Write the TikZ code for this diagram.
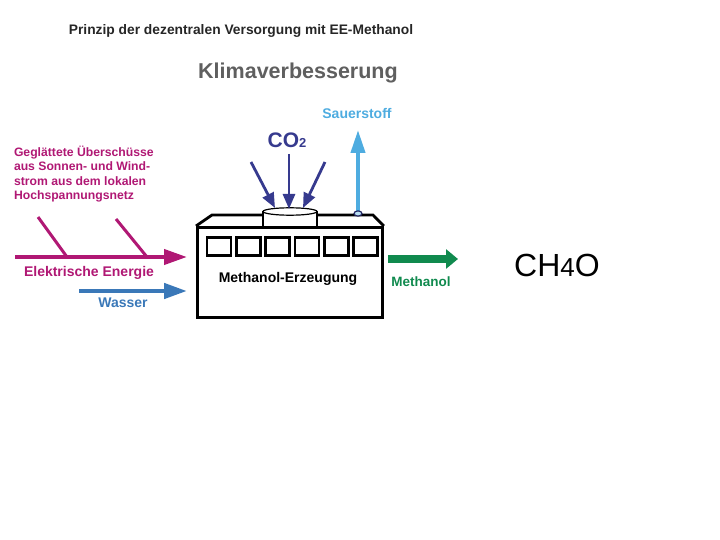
\documentclass[tikz,border=0pt]{standalone}
\usepackage{fontspec}
\setmainfont{Liberation Sans}
\usetikzlibrary{arrows.meta}
\definecolor{magentaE}{RGB}{176,24,116}
\definecolor{waterblue}{RGB}{58,120,184}
\definecolor{methgreen}{RGB}{16,138,78}
\definecolor{oxyblue}{RGB}{78,172,224}
\definecolor{coblue}{RGB}{54,58,142}
\definecolor{klimagray}{RGB}{95,95,95}
\tikzset{
  txt/.style={inner sep=0pt, outer sep=0pt, font=\fontsize{14}{16}\selectfont\bfseries},
  boxline/.style={line width=2.8pt, black, line join=miter},
  elarrow/.style={draw=magentaE, line width=4pt, -{Triangle[length=23pt,width=15pt]}},
  elline/.style={draw=magentaE, line width=3pt},
  waterarrow/.style={draw=waterblue, line width=4.5pt, -{Triangle[length=23pt,width=15pt]}},
  metharrow/.style={draw=methgreen, line width=8pt, -{Triangle[length=12pt,width=19pt]}},
  oxyarrow/.style={draw=oxyblue, line width=4pt, -{Triangle[length=23pt,width=14pt]}},
  coarrow/.style={draw=coblue, line width=2.8pt, -{Triangle[length=15pt,width=12pt]}},
}
\begin{document}
\begin{tikzpicture}[x=1pt,y=-1pt]
\useasboundingbox (0,0) rectangle (720,540);

% titles
\node[txt, text=black!85, font=\fontsize{13.8}{16}\selectfont\bfseries] (title) at (241,31) {Prinzip der dezentralen Versorgung mit EE-Methanol};
\node[txt, text=klimagray, font=\fontsize{21.5}{24}\selectfont\bfseries] (klima) at (298,73) {Klimaverbesserung};

% plant box
\node[boxline, draw, fill=white, minimum width=185pt, minimum height=90pt, anchor=north west, inner sep=0pt] (box) at (196,226) {};
\draw[boxline] (box.north west) -- (212,215) -- (263,215);
\draw[boxline] (317,215) -- (373,215) -- (box.north east);
\draw[boxline] (263,226) -- (263,211.5);
\draw[boxline] (317,226) -- (317,211.5);
\draw[line width=1.2pt, fill=white] (290,211.5) ellipse [x radius=27pt, y radius=3.7pt];
\foreach \i in {0,...,5} {
  \draw[boxline, line width=2.6pt] ({207+\i*29.3},237.5) rectangle ({231+\i*29.3},255.5);
}
\node[txt] (erz) at (288,278.5) {Methanol-Erzeugung};

% CO2
\node[txt, text=coblue, font=\fontsize{21}{24}\selectfont\bfseries] (co2) at (287,140) {CO{\fontsize{13}{15}\selectfont 2}};
\coordinate (c1s) at (251,162); \coordinate (c1e) at (275,208);
\coordinate (c2s) at (289,154); \coordinate (c2e) at (289,209);
\coordinate (c3s) at (325,162); \coordinate (c3e) at (303,208);
\draw[coarrow] (c1s) -- (c1e);
\draw[coarrow] (c2s) -- (c2e);
\draw[coarrow] (c3s) -- (c3e);

% oxygen
\node[txt, text=oxyblue] (sauer) at (357,113) {Sauerstoff};
\coordinate (oxtip) at (358,130);
\coordinate (valve) at (358,213.5);
\draw[oxyarrow] (valve) -- (oxtip);
\draw[draw=coblue!70!black, line width=1.2pt, fill=oxyblue!40] (valve) ellipse [x radius=4pt, y radius=2.6pt];

% left side
\node[txt, text=magentaE, font=\fontsize{12.2}{14.5}\selectfont\bfseries, align=left, anchor=north west] (src) at (14,146)
  {Geglättete Überschüsse\\aus Sonnen- und Wind-\\strom aus dem lokalen\\Hochspannungsnetz};
\coordinate (elS) at (15,257);
\coordinate (elE) at (187,257);
\draw[elarrow] (elS) -- (elE);
\draw[elline] (38,217) -- (67,257);
\draw[elline] (116,219) -- (147,257);
\node[txt, text=magentaE] (elek) at (89,273) {Elektrische Energie};
\coordinate (wS) at (79,291);
\coordinate (wE) at (187,291);
\draw[waterarrow] (wS) -- (wE);
\node[txt, text=waterblue] (wasser) at (123,303) {Wasser};

% methanol out
\coordinate (mS) at (388,259);
\coordinate (mE) at (458,259);
\draw[metharrow] (mS) -- (mE);
\node[txt, text=methgreen, font=\fontsize{13.5}{16}\selectfont\bfseries] (meth) at (421,282) {Methanol};

\node[inner sep=0pt, font=\fontsize{32}{36}\selectfont] (ch4o) at (557,265) {CH{\fontsize{26}{30}\selectfont 4}O};
\end{tikzpicture}
\end{document}
